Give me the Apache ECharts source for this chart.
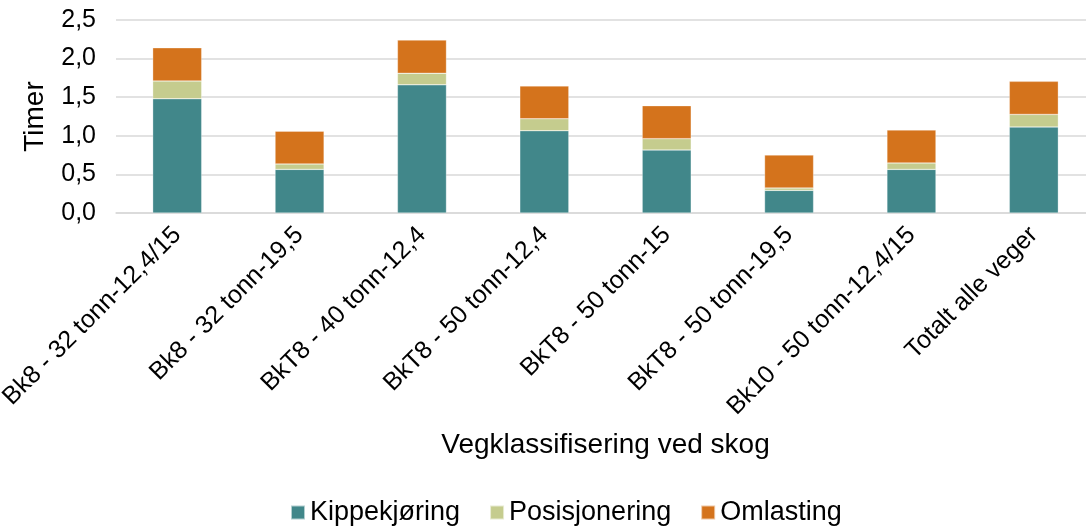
<!DOCTYPE html>
<html><head><meta charset="utf-8">
<script src="https://cdn.jsdelivr.net/npm/echarts@6/dist/echarts.min.js"></script>
<style>html,body{margin:0;padding:0;background:#fff}#c{width:1086px;height:530px}</style>
</head><body><div id="c"></div>
<script>
const categories = ["Bk8 - 32 tonn-12,4/15","Bk8 - 32 tonn-19,5","BkT8 - 40 tonn-12,4","BkT8 - 50 tonn-12,4","BkT8 - 50 tonn-15","BkT8 - 50 tonn-19,5","Bk10 - 50 tonn-12,4/15","Totalt alle veger"];
const kippekjoring = [1.48,0.565,1.66,1.066,0.816,0.293,0.565,1.114];
const posisjonering = [0.23,0.07,0.15,0.155,0.147,0.031,0.083,0.163];
const omlasting = [0.43,0.425,0.43,0.425,0.427,0.427,0.427,0.428];
const yTicks = [0,0.5,1,1.5,2,2.5];

const font = "Liberation Sans, Arial, sans-serif";
const chart = echarts.init(document.getElementById('c'));
function ser(name, data, color){
  return {name, type:'bar', stack:'s', data, barWidth:49,
    itemStyle:{color, borderColor:'rgba(255,255,255,0.6)', borderWidth:0.5}};
}
chart.setOption({
  animation:false,
  textStyle:{fontFamily:font},
  grid:{left:116,width:979,top:20,height:193,containLabel:false,outerBoundsMode:'none'},
  legend:{top:497,left:285,itemWidth:14,itemHeight:14,itemGap:29,icon:'rect',padding:[2,5,2,5],
    textStyle:{fontSize:27,color:'#000',fontFamily:font},
    data:['Kippekjøring','Posisjonering','Omlasting']},
  xAxis:{type:'category',data:categories,
    name:'Vegklassifisering ved skog',nameLocation:'middle',nameGap:218,
    nameTextStyle:{fontSize:28,color:'#000',fontFamily:font},
    axisLine:{lineStyle:{color:'#d9d9d9',width:1.5}},axisTick:{show:false},
    axisLabel:{rotate:45,fontSize:25,color:'#000',margin:18,interval:0,fontFamily:font}},
  yAxis:{type:'value',min:0,max:2.5,interval:0.5,
    name:'Timer',nameLocation:'middle',nameGap:67,
    nameTextStyle:{fontSize:28,color:'#000',fontFamily:font},
    axisLine:{show:false},axisTick:{show:false},
    splitLine:{lineStyle:{color:'#d9d9d9',width:1.5}},
    axisLabel:{fontSize:25,color:'#000',margin:20,fontFamily:font,
      formatter:v=>yTicks.includes(v)?v.toFixed(1).replace('.',','):''}},
  series:[ser('Kippekjøring',kippekjoring,'#41878a'),ser('Posisjonering',posisjonering,'#c5cc8e'),ser('Omlasting',omlasting,'#d4731c')]
});
</script></body></html>
